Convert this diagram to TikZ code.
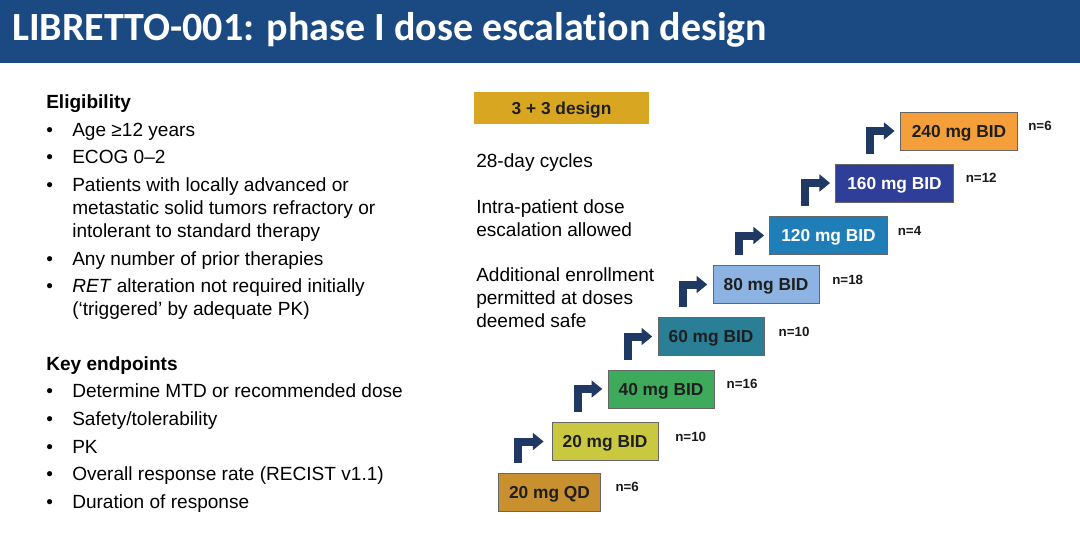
\documentclass[tikz,border=0pt]{standalone}
\usepackage{fontspec}
\setmainfont{Liberation Sans}
\newfontfamily\titlefont[Ligatures={NoCommon}]{Carlito}
\usetikzlibrary{positioning,arrows.meta}

\definecolor{barblue}{HTML}{1B4A82}
\definecolor{stepblue}{HTML}{1F3864}
\definecolor{designgold}{HTML}{D8A620}
\definecolor{qdochre}{HTML}{C8902F}
\definecolor{bidolive}{HTML}{C9C83E}
\definecolor{bidgreen}{HTML}{3DAA5C}
\definecolor{bidteal}{HTML}{2A7E96}
\definecolor{bidsky}{HTML}{8DB3E2}
\definecolor{bidblue}{HTML}{1F7DB8}
\definecolor{bidindigo}{HTML}{2F3F99}
\definecolor{bidorange}{HTML}{F59F3A}

\begin{document}
\begin{tikzpicture}[x=0.75pt,y=-0.75pt,
  body/.style={anchor=base west,inner sep=0pt,align=left,font=\fontsize{14.3}{17.25}\selectfont},
  dose/.style={draw=black!60,line width=0.6pt,minimum width=79.5pt,minimum height=28.5pt,inner sep=0pt,text height=9.3pt,text depth=0pt,text=black!88,font=\fontsize{13}{15}\selectfont\bfseries},
  nlab/.style={inner sep=0pt,text=black!90,font=\fontsize{10}{12}\selectfont\bfseries},
  stepar/.style={draw=stepblue,line width=6pt,-{Triangle[width=12.5pt,length=8pt]}}]
\useasboundingbox (0,0) rectangle (1080,532);

% title bar
\fill[barblue] (0,0) rectangle (1080,63);
\node[anchor=base west,inner sep=0pt,text=white,font=\titlefont\fontsize{30}{36}\selectfont\bfseries] (title) at (12,40) {LIBRETTO-001: phase I dose escalation design};

% eligibility (multi-line nodes sit on their last baseline)
\node[body,font=\fontsize{14.3}{17.25}\selectfont\bfseries] (elig) at (46,108) {Eligibility};
\node[body] (b1) at (46,136) {•};  \node[body] (e1) at (72,136) {Age ≥12 years};
\node[body] (b2) at (46,163) {•};  \node[body] (e2) at (72,163) {ECOG 0–2};
\node[body] (b3) at (46,191) {•};  \node[body] (e3) at (72,237) {Patients with locally advanced or\\metastatic solid tumors refractory or\\intolerant to standard therapy};
\node[body] (b4) at (46,265) {•};  \node[body] (e4) at (72,265) {Any number of prior therapies};
\node[body] (b5) at (46,292) {•};  \node[body] (e5) at (72,315) {\textit{RET} alteration not required initially\\(‘triggered’ by adequate PK)};

% endpoints
\node[body,font=\fontsize{14.3}{17.25}\selectfont\bfseries] (keyep) at (46,370) {Key endpoints};
\node[body] (b6) at (46,397) {•};  \node[body] (k1) at (72,397) {Determine MTD or recommended dose};
\node[body] (b7) at (46,425) {•};  \node[body] (k2) at (72,425) {Safety/tolerability};
\node[body] (b8) at (46,453) {•};  \node[body] (k3) at (72,453) {PK};
\node[body] (b9) at (46,480) {•};  \node[body] (k4) at (72,480) {Overall response rate (RECIST v1.1)};
\node[body] (b10) at (46,508) {•}; \node[body] (k5) at (72,508) {Duration of response};

% design notes
\node[fill=designgold,minimum width=131pt,minimum height=24pt,inner sep=0pt,text height=9.3pt,text depth=0pt,text=black!88,font=\fontsize{13}{15}\selectfont\bfseries] (design) at (561.5,108) {3 + 3 design};
\node[body] (cyc) at (476,167) {28-day cycles};
\node[body] (intra) at (476,236) {Intra-patient dose\\escalation allowed};
\node[body] (addl) at (476,327) {Additional enrollment\\permitted at doses\\deemed safe};

% dose levels
\node[dose,fill=qdochre,minimum width=77pt] (q20) at (549.5,492) {20 mg QD};
\node[dose,fill=bidolive] (b20) at (605,441.5) {20 mg BID};
\node[dose,fill=bidgreen] (b40) at (661,389) {40 mg BID};
\node[dose,fill=bidteal] (b60) at (711,336.5) {60 mg BID};
\node[dose,fill=bidsky] (b80) at (766,284.5) {80 mg BID};
\node[dose,fill=bidblue,text=white,minimum width=88pt] (b120) at (828.5,235.5) {120 mg BID};
\node[dose,fill=bidindigo,text=white,minimum width=88pt] (b160) at (894.5,183) {160 mg BID};
\node[dose,fill=bidorange,minimum width=88pt] (b240) at (959,131) {240 mg BID};

\node[nlab,right=10.5pt of q20,yshift=3.5pt] (nq20) {n=6};
\node[nlab,right=12.5pt of b20,yshift=3.5pt] (nb20) {n=10};
\node[nlab,right=9pt of b40,yshift=3.5pt] (nb40) {n=16};
\node[nlab,right=10.5pt of b60,yshift=3.5pt] (nb60) {n=10};
\node[nlab,right=9.5pt of b80,yshift=3.5pt] (nb80) {n=18};
\node[nlab,right=7.5pt of b120,yshift=3.5pt] (nb120) {n=4};
\node[nlab,right=9pt of b160,yshift=3.5pt] (nb160) {n=12};
\node[nlab,right=7.5pt of b240,yshift=3.5pt] (nb240) {n=6};

% escalation steps
\draw[stepar] ([shift={(-34,-10)}]q20.north -| b20.west) |- ([xshift=-6pt]b20.west);
\draw[stepar] ([shift={(-30,-10)}]b20.north -| b40.west) |- ([xshift=-4pt]b40.west);
\draw[stepar] ([shift={(-30,-10)}]b40.north -| b60.west) |- ([xshift=-4pt]b60.west);
\draw[stepar] ([shift={(-30,-10)}]b60.north -| b80.west) |- ([xshift=-4pt]b80.west);
\draw[stepar] ([shift={(-30,-10)}]b80.north -| b120.west) |- ([xshift=-4pt]b120.west);
\draw[stepar] ([shift={(-30,-10)}]b120.north -| b160.west) |- ([xshift=-4pt]b160.west);
\draw[stepar] ([shift={(-30,-10)}]b160.north -| b240.west) |- ([xshift=-4pt]b240.west);
\end{tikzpicture}
\end{document}
